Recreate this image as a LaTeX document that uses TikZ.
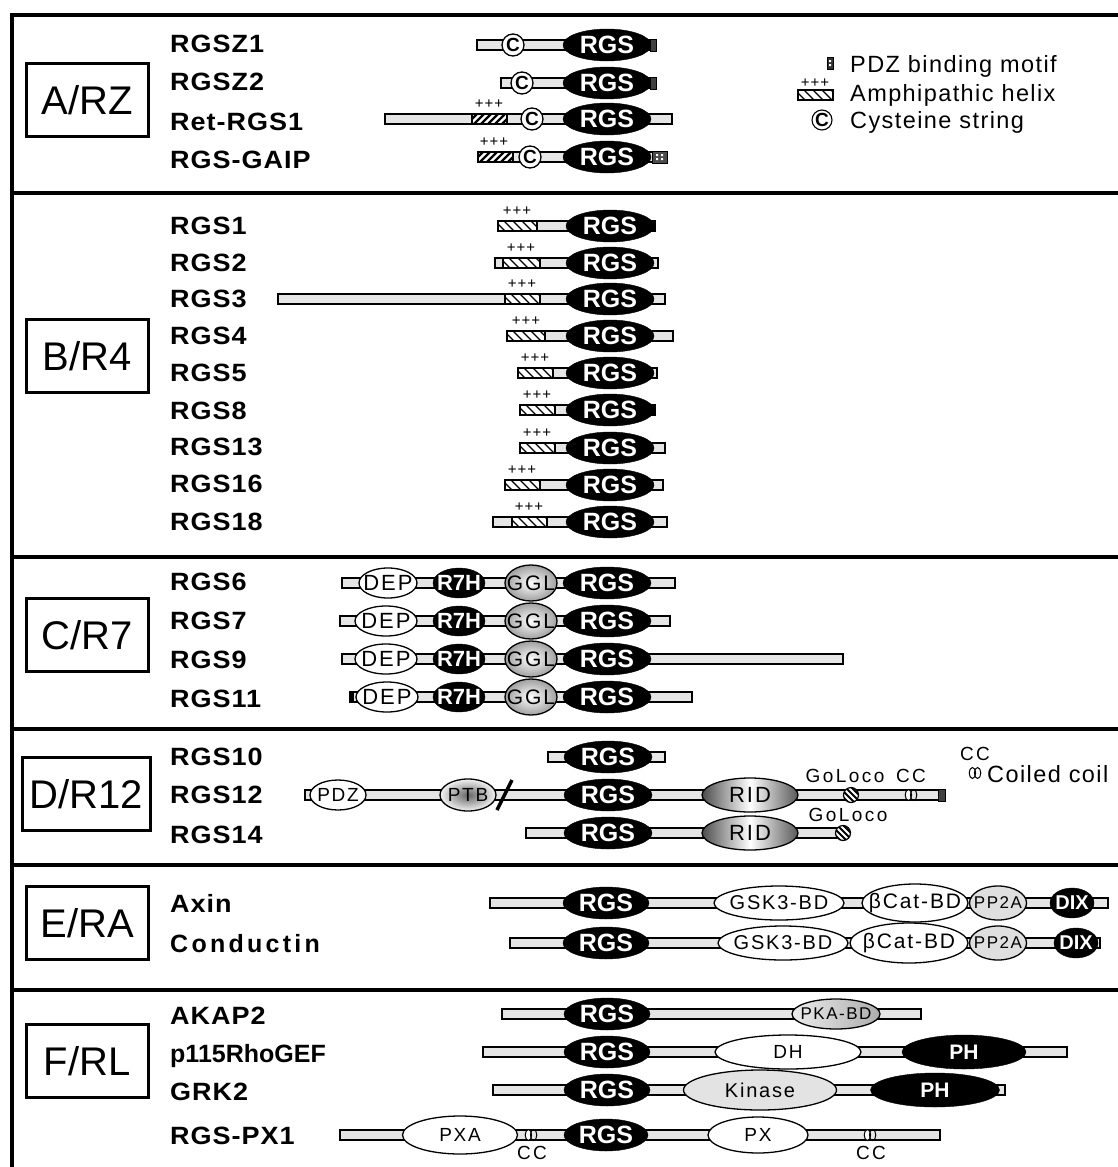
\documentclass[tikz,border=0pt]{standalone}
\usepackage{fontspec}
\setmainfont{Liberation Sans}
\newfontfamily\namefont[LetterSpace=4,FakeStretch=1.08]{Liberation Sans}
\newfontfamily\domfont[LetterSpace=9]{Liberation Sans}
\newfontfamily\smfont[LetterSpace=13]{Liberation Sans}
\newfontfamily\legfont[LetterSpace=6]{Liberation Sans}
\usetikzlibrary{shapes.geometric}
\definecolor{barfill}{gray}{0.9}
\tikzset{
  frame/.style={line width=3.2},
  grp/.style={draw, line width=3, minimum width=122, minimum height=73, inner sep=0, font=\fontsize{40}{40}\selectfont},
  pname/.style={anchor=base west, inner sep=0, font=\namefont\bfseries\fontsize{25}{25}\selectfont},
  legtext/.style={anchor=base west, inner sep=0, font=\legfont\fontsize{23.5}{23.5}\selectfont},
  barsty/.style={draw, fill=barfill, line width=1.3},
  rgs/.style={ellipse, draw, fill=black, minimum width=88, minimum height=32, inner sep=0, text=white, font=\bfseries\fontsize{25}{25}\selectfont},
  dom/.style={ellipse, draw, line width=1.3, inner sep=0, fill=white},
  blk/.style={ellipse, draw, fill=black, inner sep=0},
  lab/.style 2 args={label={[font=\domfont\fontsize{#2}{#2}\selectfont, inner sep=0]center:#1}},
  wlab/.style 2 args={label={[font=\bfseries\fontsize{#2}{#2}\selectfont, text=white, inner sep=0]center:#1}},
  plus/.style={inner sep=0, font=\legfont\fontsize{15}{15}\selectfont},
  small/.style={inner sep=0, font=\smfont\fontsize{19}{19}\selectfont},
  cys/.style={circle, draw, fill=white, line width=1.3, minimum size=22, inner sep=0, font=\bfseries\fontsize{19}{19}\selectfont},
  ggl/.style={inner color=white, outer color=gray!75},
  rid/.style={left color=black!70, right color=black!65, middle color=white},
  ptb/.style={inner color=black!60, outer color=gray!10},
  pka/.style={left color=gray!15, right color=gray!65},
  hA/.style={line width=2.3},
  hB/.style={line width=1.2},
}
\newcommand\pbar[3]{\draw[barsty] (#2,#1-5) rectangle (#3,#1+5);}
\newcommand\hatchA[3]{%
  \fill[white] (#2,#1-5) rectangle (#3,#1+5);
  \begin{scope}\clip (#2,#1-5) rectangle (#3,#1+5);
  \foreach \k in {-14,-7,...,49} {\draw[hA] (#2+\k,#1+7) -- ++(14,-14);}
  \end{scope}
  \draw[line width=1.3] (#2,#1-5) rectangle (#3,#1+5);}
\newcommand\hatchB[3]{%
  \fill[white] (#2,#1-5) rectangle (#3,#1+5);
  \begin{scope}\clip (#2,#1-5) rectangle (#3,#1+5);
  \foreach \k in {-14,-5,...,50} {\draw[hB] (#2+\k,#1-7) -- ++(14,14);}
  \end{scope}
  \draw[line width=1.3] (#2,#1-5) rectangle (#3,#1+5);}
\newcommand\motif[3]{\draw[line width=1, fill=black!75] (#1,#3-6) rectangle (#2,#3+6);}
\newcommand\coil[2]{%
  \draw[line width=1, fill=white] (#1-2.6,#2) ellipse (3.2 and 5.5);
  \draw[line width=1] (#1+2.6,#2) ellipse (3.2 and 5.5);}
\newcommand\goloco[2]{%
  \fill[white] (#1,#2) circle (7.5);
  \begin{scope}\clip (#1,#2) circle (7.5);
  \foreach \k in {-16,-10,...,16} {\draw[line width=2] (#1+\k-8,#2-8) -- ++(16,16);}
  \end{scope}
  \draw[line width=1.2] (#1,#2) circle (7.5);}
\begin{document}
\begin{tikzpicture}[x=1pt,y=-1pt]
\useasboundingbox (0,0) rectangle (1118,1167);
\begin{scope}
\clip (0,0) rectangle (1118,1167);
\draw[frame] (1130,15) -- (12,15) -- (12,1180);
\foreach \yy in {193,557,729,865,990} {\draw[frame] (12,\yy) -- (1130,\yy);}
\end{scope}
% group boxes
\node[grp] (gA) at (87,100) {A/RZ};
\node[grp] (gB) at (87,356) {B/R4};
\node[grp] (gC) at (87,635) {C/R7};
\node[grp, minimum width=128] (gD) at (86,794) {D/R12};
\node[grp] (gE) at (87,923) {E/RA};
\node[grp] (gF) at (87,1061) {F/RL};
% protein names
\node[pname] (nZ1) at (170,52) {RGSZ1};
\node[pname] (nZ2) at (170,90) {RGSZ2};
\node[pname] (nRet) at (170,130) {Ret-RGS1};
\node[pname] (nGAIP) at (170,168) {RGS-GAIP};
\node[pname] (n1) at (170,234) {RGS1};
\node[pname] (n2) at (170,271) {RGS2};
\node[pname] (n3) at (170,307) {RGS3};
\node[pname] (n4) at (170,344) {RGS4};
\node[pname] (n5) at (170,381) {RGS5};
\node[pname] (n8) at (170,419) {RGS8};
\node[pname] (n13) at (170,455) {RGS13};
\node[pname] (n16) at (170,492) {RGS16};
\node[pname] (n18) at (170,530) {RGS18};
\node[pname] (n6) at (170,590) {RGS6};
\node[pname] (n7) at (170,629) {RGS7};
\node[pname] (n9) at (170,668) {RGS9};
\node[pname] (n11) at (170,707) {RGS11};
\node[pname] (n10) at (170,765) {RGS10};
\node[pname] (n12) at (170,803) {RGS12};
\node[pname] (n14) at (170,843) {RGS14};
\node[pname] (nAx) at (170,912) {Axin};
\node[pname, font=\smfont\bfseries\fontsize{25}{25}\selectfont] (nCo) at (170,952) {Conductin};
\node[pname] (nAK) at (170,1024) {AKAP2};
\node[pname, font=\bfseries\fontsize{25}{25}\selectfont] (nP115) at (170,1062) {p115RhoGEF};
\node[pname] (nGRK) at (170,1100) {GRK2};
\node[pname] (nPX1) at (170,1144) {RGS-PX1};
% ---------- A/RZ ----------
\pbar{45}{477}{656}
\node[rgs] (rZ1) at (607,45) {RGS};
\motif{650}{656}{45}
\node[cys] (cZ1) at (513,45) {C};
\pbar{83}{501}{656}
\node[rgs] (rZ2) at (607,83) {RGS};
\motif{650}{656}{83}
\node[cys] (cZ2) at (522,83) {C};
\pbar{119}{385}{672}
\hatchA{119}{472}{507}
\node[plus] (pRet) at (489,104) {+++};
\node[cys] (cRet) at (532,119) {C};
\node[rgs] (rRet) at (607,119) {RGS};
\pbar{157}{478}{660}
\hatchA{157}{478}{513}
\node[plus] (pGAIP) at (494,142) {+++};
\node[cys] (cGAIP) at (530,157) {C};
\node[rgs] (rGAIP) at (607,157) {RGS};
\draw[line width=1, fill=black!70] (652,151) rectangle (667,163);
\fill[white] (656,154) rectangle (658,156) (656,158) rectangle (658,160) (661,154) rectangle (663,156) (661,158) rectangle (663,160);
% legend A
\draw[line width=1, fill=black!80] (827,57) rectangle (833,69);
\fill[white] (829,60) rectangle (831,62) (829,64) rectangle (831,66);
\node[legtext] (lPDZ) at (850,72) {PDZ binding motif};
\node[plus] (lplus) at (815,83) {+++};
\hatchB{95}{798}{833}
\node[legtext] (lAmph) at (850,101) {Amphipathic helix};
\node[cys, minimum size=20, line width=1.1] (lC) at (822,120) {C};
\node[legtext] (lCys) at (850,128) {Cysteine string};
% ---------- B/R4 ----------
\pbar{226}{498}{655}
\hatchB{226}{498}{537}
\node[plus] (p1) at (517,211) {+++};
\node[rgs] (r1) at (610,226) {RGS};
\fill (650,220) rectangle (656,232);
\pbar{263}{495}{658}
\hatchB{263}{503}{540}
\node[plus] (p2) at (521,248) {+++};
\node[rgs] (r2) at (610,263) {RGS};
\pbar{299}{278}{665}
\hatchB{299}{505}{540}
\node[plus] (p3) at (522,284) {+++};
\node[rgs] (r3) at (610,299) {RGS};
\pbar{336}{507}{673}
\hatchB{336}{507}{545}
\node[plus] (p4) at (526,321) {+++};
\node[rgs] (r4) at (610,336) {RGS};
\pbar{373}{518}{657}
\hatchB{373}{518}{553}
\node[plus] (p5) at (535,358) {+++};
\node[rgs] (r5) at (610,373) {RGS};
\pbar{410}{520}{655}
\hatchB{410}{520}{555}
\node[plus] (p8) at (537,395) {+++};
\node[rgs] (r8) at (610,410) {RGS};
\fill (650,404) rectangle (656,416);
\pbar{448}{520}{665}
\hatchB{448}{520}{555}
\node[plus] (p13) at (537,433) {+++};
\node[rgs] (r13) at (610,448) {RGS};
\pbar{485}{505}{663}
\hatchB{485}{505}{540}
\node[plus] (p16) at (522,470) {+++};
\node[rgs] (r16) at (610,485) {RGS};
\pbar{522}{493}{667}
\hatchB{522}{512}{547}
\node[plus] (p18) at (529,507) {+++};
\node[rgs] (r18) at (610,522) {RGS};
% ---------- C/R7 ----------
\pbar{583}{342}{675}
\node[dom, minimum width=58, minimum height=30, lab={DEP}{22}] (d6) at (388,583) {};
\node[blk, minimum width=52, minimum height=30, wlab={R7H}{22}] (h6) at (459,583) {};
\node[dom, ggl, minimum width=52, minimum height=36, lab={GGL}{21}] (g6) at (531,583) {};
\node[rgs] (r6) at (607,583) {RGS};
\pbar{621}{340}{670}
\node[dom, minimum width=62, minimum height=30, lab={DEP}{22}] (d7) at (386,621) {};
\node[blk, minimum width=52, minimum height=30, wlab={R7H}{22}] (h7) at (459,621) {};
\node[dom, ggl, minimum width=52, minimum height=36, lab={GGL}{21}] (g7) at (531,621) {};
\node[rgs] (r7) at (607,621) {RGS};
\pbar{659}{342}{843}
\node[dom, minimum width=62, minimum height=30, lab={DEP}{22}] (d9) at (386,659) {};
\node[blk, minimum width=52, minimum height=30, wlab={R7H}{22}] (h9) at (459,659) {};
\node[dom, ggl, minimum width=52, minimum height=36, lab={GGL}{21}] (g9) at (531,659) {};
\node[rgs] (r9) at (607,659) {RGS};
\pbar{697}{350}{692}
\fill (349,691) rectangle (354,703);
\node[dom, minimum width=62, minimum height=30, lab={DEP}{22}] (d11) at (387,697) {};
\node[blk, minimum width=52, minimum height=30, wlab={R7H}{22}] (h11) at (459,697) {};
\node[dom, ggl, minimum width=52, minimum height=36, lab={GGL}{21}] (g11) at (531,697) {};
\node[rgs] (r11) at (607,697) {RGS};
% ---------- D/R12 ----------
\pbar{757}{548}{665}
\node[rgs] (r10) at (608,757) {RGS};
\pbar{795}{305}{945}
\node[dom, minimum width=56, minimum height=30, lab={PDZ}{19}] (pdz12) at (338,795) {};
\node[dom, ptb, minimum width=56, minimum height=32, lab={PTB}{19}] (ptb12) at (468,795) {};
\draw[line width=3.5] (497,810) -- (512,780);
\node[rgs] (r12) at (608,795) {RGS};
\node[dom, rid, minimum width=96, minimum height=34, lab={RID}{22}] (rid12) at (750,795) {};
\goloco{851}{795}
\coil{911}{795}
\motif{938}{945}{795}
\node[small] (gl12) at (845,776) {GoLoco};
\node[small] (cc12) at (911,776) {CC};
\pbar{833}{526}{848}
\node[rgs] (r14) at (608,833) {RGS};
\node[dom, rid, minimum width=96, minimum height=34, lab={RID}{22}] (rid14) at (750,833) {};
\goloco{843}{833}
\node[small] (gl14) at (848,815) {GoLoco};
% legend D
\node[small] (lcc) at (975,754) {CC};
\coil{975}{773}
\node[legtext] (lcoil) at (987,782) {Coiled coil};
% ---------- E/RA ----------
\pbar{903}{490}{1108}
\node[rgs, minimum width=86] (rAx) at (606,903) {RGS};
\node[dom, minimum width=130, minimum height=34, lab={GSK3-BD}{20}] (gskAx) at (779,903) {};
\node[dom, minimum width=106, minimum height=38, lab={βCat-BD}{21}] (bcAx) at (915,903) {};
\node[dom, fill=gray!25, minimum width=57, minimum height=34, lab={PP2A}{17}] (ppAx) at (998,903) {};
\node[blk, minimum width=44, minimum height=30, wlab={DIX}{20}] (dxAx) at (1072,903) {};
\pbar{943}{510}{1100}
\node[rgs, minimum width=86] (rCo) at (606,943) {RGS};
\node[dom, minimum width=130, minimum height=34, lab={GSK3-BD}{20}] (gskCo) at (783,943) {};
\node[dom, minimum width=118, minimum height=40, lab={βCat-BD}{21}] (bcCo) at (909,943) {};
\node[dom, fill=gray!25, minimum width=57, minimum height=34, lab={PP2A}{17}] (ppCo) at (998,943) {};
\node[blk, minimum width=44, minimum height=30, wlab={DIX}{20}] (dxCo) at (1076,943) {};
% ---------- F/RL ----------
\pbar{1014}{502}{921}
\node[rgs, minimum width=86] (rAK) at (607,1014) {RGS};
\node[dom, pka, minimum width=88, minimum height=30, lab={PKA-BD}{17}] (pkaAK) at (836,1014) {};
\pbar{1052}{483}{1067}
\node[rgs, minimum width=86] (rP) at (607,1052) {RGS};
\node[dom, minimum width=146, minimum height=34, lab={DH}{19}] (dhP) at (788,1052) {};
\node[blk, minimum width=124, minimum height=34, wlab={PH}{21}] (phP) at (964,1052) {};
\pbar{1090}{493}{1005}
\node[rgs, minimum width=86] (rG) at (607,1090) {RGS};
\node[dom, fill=gray!22, minimum width=153, minimum height=40, lab={Kinase}{20}] (kG) at (760,1090) {};
\node[blk, minimum width=129, minimum height=34, wlab={PH}{21}] (phG) at (935,1090) {};
\pbar{1135}{340}{940}
\node[dom, minimum width=115, minimum height=38, lab={PXA}{19}] (pxa) at (460,1135) {};
\coil{531}{1135}
\node[rgs, minimum width=84] (rPX) at (606,1135) {RGS};
\node[dom, minimum width=100, minimum height=36, lab={PX}{19}] (px) at (758,1135) {};
\coil{870}{1135}
\node[small] (cc1) at (532,1153) {CC};
\node[small] (cc2) at (871,1153) {CC};
\end{tikzpicture}
\end{document}
